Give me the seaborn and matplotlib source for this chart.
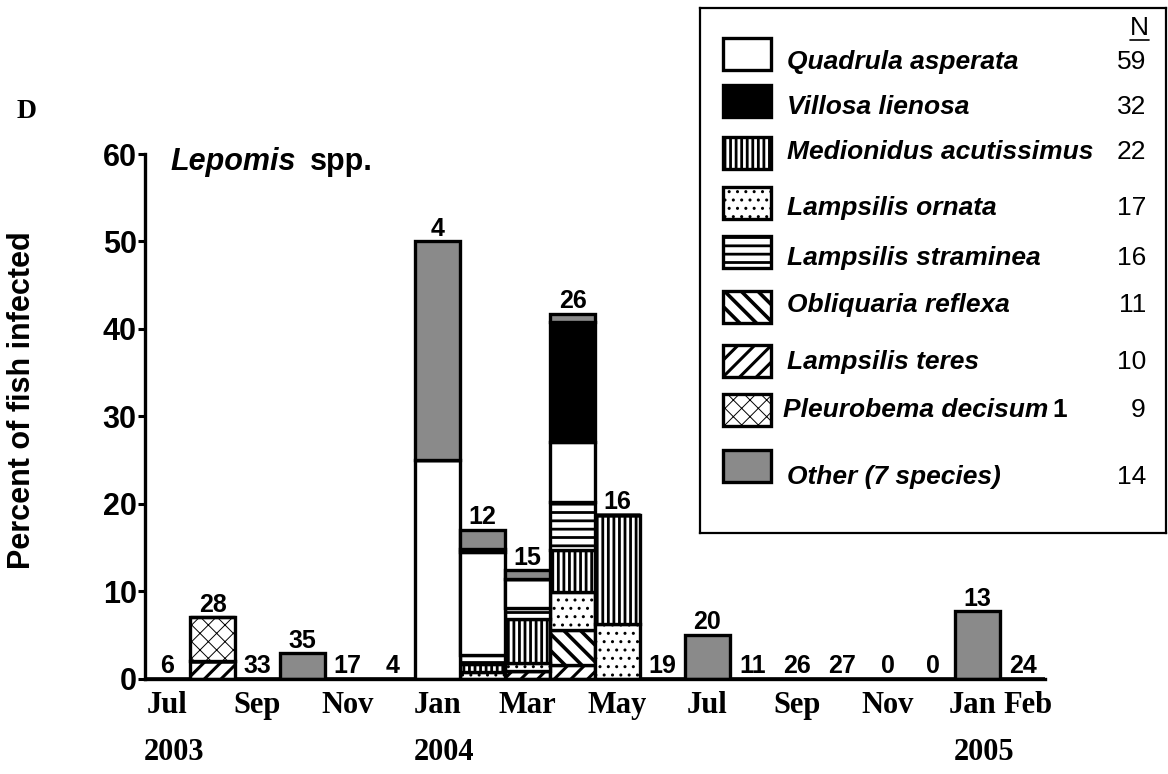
import numpy as np
import matplotlib
matplotlib.use("Agg")
import matplotlib.pyplot as plt
import matplotlib.transforms as mtransforms
from matplotlib.patches import Rectangle
import seaborn as sns

#----------------------------------------------
''' DATA '''
#----------------------------------------------

# monthly samples, Jul 2003 - Feb 2005
periods = ["2003-07", "2003-08", "2003-09", "2003-10", "2003-11", "2003-12",
           "2004-01", "2004-02", "2004-03", "2004-04", "2004-05", "2004-06",
           "2004-07", "2004-08", "2004-09", "2004-10", "2004-11", "2004-12",
           "2005-01", "2005-02"]
month_labels = ["Jul", "", "Sep", "", "Nov", "", "Jan", "", "Mar", "", "May", "",
                "Jul", "", "Sep", "", "Nov", "", "Jan", "Feb"]
years = ["2003", "2004", "2005"]
year_pos = [0, 6, 18]

# number of fish examined per month
n_fish = [6, 28, 33, 35, 17, 4, 4, 12, 15, 26, 16, 19, 20, 11, 26, 27, 0, 0, 13, 24]

# percent of fish infected, per mussel species (bottom of stack first)
teres      = [0, 2.0, 0, 0, 0, 0, 0, 0, 0.9, 1.5, 0, 0, 0, 0, 0, 0, 0, 0, 0, 0]
obliquaria = [0, 0, 0, 0, 0, 0, 0, 0, 0, 4.0, 0, 0, 0, 0, 0, 0, 0, 0, 0, 0]
ornata     = [0, 0, 0, 0, 0, 0, 0, 0.8, 0.9, 4.4, 6.25, 0, 0, 0, 0, 0, 0, 0, 0, 0]
medionidus = [0, 0, 0, 0, 0, 0, 0, 0.9, 5.0, 4.8, 12.5, 0, 0, 0, 0, 0, 0, 0, 0, 0]
straminea  = [0, 0, 0, 0, 0, 0, 0, 1.0, 1.3, 5.5, 0, 0, 0, 0, 0, 0, 0, 0, 0, 0]
quadrula   = [0, 0, 0, 0, 0, 0, 25.0, 11.8, 3.3, 6.9, 0, 0, 0, 0, 0, 0, 0, 0, 0, 0]
villosa    = [0, 0, 0, 0, 0, 0, 0, 0.3, 0, 13.7, 0, 0, 0, 0, 0, 0, 0, 0, 0, 0]
pleurobema = [0, 5.0, 0, 0, 0, 0, 0, 0, 0, 0, 0, 0, 0, 0, 0, 0, 0, 0, 0, 0]
other      = [0, 0, 0, 2.9, 0, 0, 25.0, 2.2, 1.0, 0.9, 0, 0, 5.0, 0, 0, 0, 0, 0, 7.7, 0]

# legend (top to bottom) and total N per species
legend_names = ["Quadrula asperata", "Villosa lienosa", "Medionidus acutissimus",
                "Lampsilis ornata", "Lampsilis straminea", "Obliquaria reflexa",
                "Lampsilis teres", "Pleurobema decisum", "Other (7 species)"]
legend_n = [59, 32, 22, 17, 16, 11, 10, 9, 14]

#----------------------------------------------
''' STYLE '''
#----------------------------------------------

sns.set_style("white")
plt.rcParams["font.family"] = ["Liberation Sans", "DejaVu Sans"]
plt.rcParams["hatch.linewidth"] = 2.0
for key in ["text.color", "axes.labelcolor", "xtick.color", "ytick.color"]:
    plt.rcParams[key] = "black"
SERIF = ["Liberation Serif", "DejaVu Serif"]
GREY = "#8a8a8a"

styles = {
    "Lampsilis teres": dict(color="white", hatch="//", hlw=2.2),
    "Obliquaria reflexa": dict(color="white", hatch="\\\\", hlw=2.6),
    "Lampsilis ornata": dict(color="white", hatch="..", hlw=1.0),
    "Medionidus acutissimus": dict(color="white", hatch="|||", hlw=2.0),
    "Lampsilis straminea": dict(color="white", hatch="--", hlw=2.0),
    "Quadrula asperata": dict(color="white", hatch=None, hlw=1.0),
    "Villosa lienosa": dict(color="black", hatch=None, hlw=1.0),
    "Pleurobema decisum": dict(color="white", hatch="xx", hlw=0.7),
    "Other (7 species)": dict(color=GREY, hatch=None, hlw=1.0),
}

layers = [("Lampsilis teres", teres), ("Obliquaria reflexa", obliquaria),
          ("Lampsilis ornata", ornata), ("Medionidus acutissimus", medionidus),
          ("Lampsilis straminea", straminea), ("Quadrula asperata", quadrula),
          ("Villosa lienosa", villosa), ("Pleurobema decisum", pleurobema),
          ("Other (7 species)", other)]

#----------------------------------------------
''' PLOT '''
#----------------------------------------------

fig = plt.figure(figsize=(11.68, 7.74), dpi=100)
ax = fig.add_axes([145 / 1168, 95.5 / 774, 900 / 1168, 524.5 / 774])

bottom = np.zeros(len(periods))
for name, vals in layers:
    vals = np.asarray(vals, dtype=float)
    st = styles[name]
    sns.barplot(x=periods, y=vals, order=periods, width=1.0, saturation=1,
                errorbar=None, color=st["color"], edgecolor="black",
                linewidth=2.4, hatch=st["hatch"], hatch_linewidth=st["hlw"],
                bottom=bottom, ax=ax)
    bottom += vals

# sample size above each bar
for i, n in enumerate(n_fish):
    ax.annotate(str(n), (i, bottom[i]), xytext=(0, 4), textcoords="offset points",
                ha="center", va="baseline", fontsize=18, fontweight="bold",
                annotation_clip=False)

ax.set_xlim(-0.5, len(periods) - 0.5)
ax.set_ylim(0, 60)
ax.set_xlabel("")
ax.set_ylabel("")
ax.set_xticks(np.arange(-0.5, len(periods), 1))
ax.set_xticklabels([])
ax.set_xticks(np.arange(len(periods)), minor=True)
ax.set_xticklabels(month_labels, minor=True, family=SERIF, fontsize=22,
                   fontweight="bold")
ax.tick_params(axis="x", which="minor", length=0, pad=9)
ax.tick_params(axis="x", which="major", length=6, width=2.2, direction="out",
               color="black")
# nudge the crowded "Jan Feb" pair apart a little
mlabels = ax.xaxis.get_minorticklabels()
for lab, dx in [(mlabels[-2], -5), (mlabels[-1], 6)]:
    lab.set_transform(lab.get_transform()
                      + mtransforms.ScaledTranslation(dx / 100, 0, fig.dpi_scale_trans))
ax.set_yticks(range(0, 61, 10))
ax.tick_params(axis="y", length=5, width=2.2, direction="out", labelsize=22,
               pad=1, color="black", left=True)
for lab in ax.get_yticklabels():
    lab.set_fontweight("bold")
sns.despine(ax=ax)
for side in ["left", "bottom"]:
    ax.spines[side].set_linewidth(2.4)
    ax.spines[side].set_color("black")

# year labels under the months
trans = mtransforms.blended_transform_factory(ax.transData, fig.transFigure)
for yr, pos in zip(years, year_pos):
    ax.text(pos + 0.15, 0.028, yr, transform=trans, ha="center", va="center",
            family=SERIF, fontsize=22, fontweight="bold")

fig.text(22 / 1168, 1 - 400 / 774, "Percent of fish infected", rotation=90,
         ha="center", va="center", fontsize=22, fontweight="bold")
fig.text(27 / 1168, 1 - 112 / 774, "D", ha="center", va="center", family=SERIF,
         fontsize=20, fontweight="bold")
fig.text(170 / 1168, 1 - 162 / 774, "Lepomis", ha="left", va="center",
         fontsize=22, fontweight="bold", style="italic")
fig.text(310 / 1168, 1 - 162 / 774, "spp.", ha="left", va="center",
         fontsize=22, fontweight="bold")

#----------------------------------------------
''' LEGEND BOX '''
#----------------------------------------------

lax = fig.add_axes([700 / 1168, 1 - 533 / 774, 466 / 1168, 525 / 774])
lax.set_xlim(0, 466)
lax.set_ylim(525, 0)
lax.set_xticks([])
lax.set_yticks([])
for s in lax.spines.values():
    s.set_linewidth(1.6)
    s.set_color("black")

patch_y = [46, 93, 145, 195, 244, 299, 353, 402, 458]
text_y = [54, 99, 144, 200, 250, 297, 354, 402, 469]
for name, n, py, ty in zip(legend_names, legend_n, patch_y, text_y):
    st = styles[name]
    lax.add_patch(Rectangle((23, py - 16), 48, 32, facecolor=st["color"],
                            edgecolor="black", linewidth=2.4, hatch=st["hatch"],
                            hatch_linewidth=st["hlw"]))
    tx = 83 if name == "Pleurobema decisum" else 87
    lax.text(tx, ty, name, ha="left", va="center", fontsize=19,
             fontweight="bold", style="italic")
    lax.text(446, ty, str(n), ha="right", va="center", fontsize=19)
lax.text(352, 402, "1", ha="left", va="center", fontsize=19, fontweight="bold")
lax.text(439, 20, "N", ha="center", va="center", fontsize=19)
lax.plot([430, 449], [32, 32], color="black", linewidth=1.2)

fig.savefig("out.png", dpi=100)
